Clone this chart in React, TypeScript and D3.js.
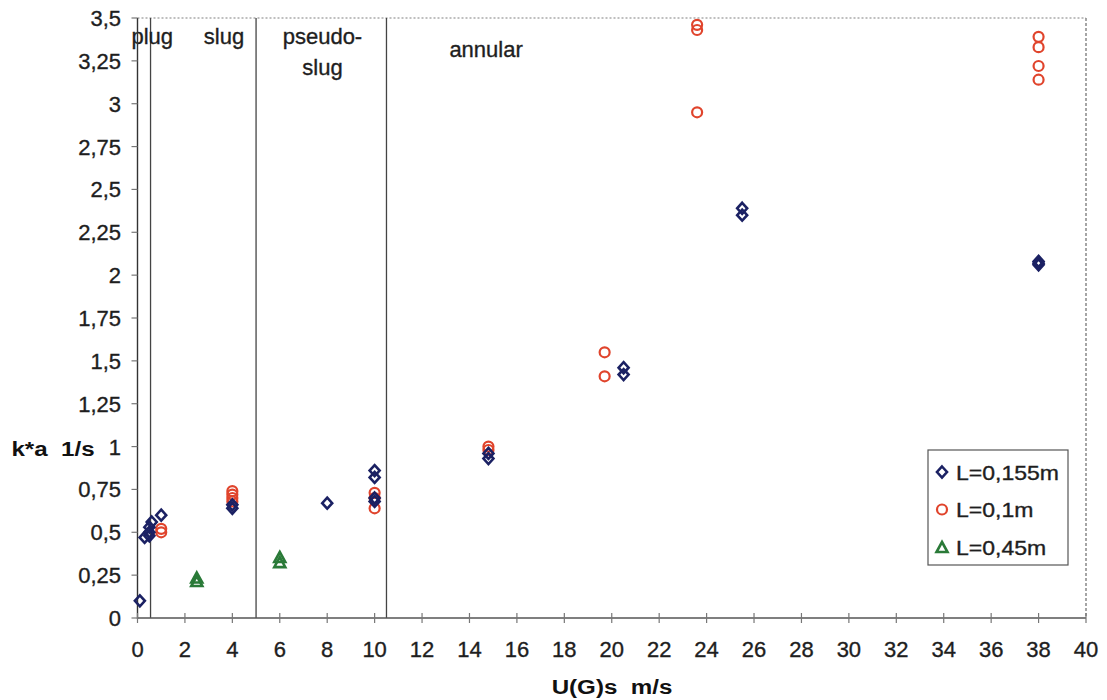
import React from "react";
import * as d3 from "d3";

// Gas superficial velocity U(G)s [m/s] and k*a [1/s] for each electrode spacing
const diamondX = [0.1, 0.3, 0.5, 0.5, 0.5, 0.6, 1.0, 4, 4, 8, 10, 10, 10, 10, 14.8, 14.8, 20.5, 20.5, 25.5, 25.5, 38, 38, 38];
const diamondY = [0.1, 0.47, 0.48, 0.5, 0.53, 0.56, 0.6, 0.64, 0.66, 0.67, 0.86, 0.82, 0.7, 0.68, 0.93, 0.96, 1.46, 1.42, 2.39, 2.35, 2.06, 2.07, 2.08];

const circleX = [1.0, 1.0, 4, 4, 4, 4, 10, 10, 10, 14.8, 14.8, 19.7, 19.7, 23.6, 23.6, 23.6, 38, 38, 38, 38];
const circleY = [0.52, 0.5, 0.74, 0.72, 0.7, 0.68, 0.73, 0.7, 0.64, 1.0, 0.98, 1.55, 1.41, 3.46, 3.43, 2.95, 3.39, 3.33, 3.22, 3.14];

const triangleX = [2.5, 2.5, 6, 6];
const triangleY = [0.21, 0.23, 0.32, 0.35];

const xTicks = d3.range(0, 41, 2);
const yTicks = d3.range(0, 3.51, 0.25);

// Flow regime boundaries and labels
const regimeBounds = [0.55, 5, 10.5];
const regimeLabels = [
  { x: 0.62, y: 3.35, lines: ["plug"] },
  { x: 3.65, y: 3.35, lines: ["slug"] },
  { x: 7.8, y: 3.35, lines: ["pseudo-", "slug"] },
  { x: 14.7, y: 3.27, lines: ["annular"] },
];

const seriesNames = ["L=0,155m", "L=0,1m", "L=0,45m"];
const navy = "#1b2163";
const red = "#e0442c";
const green = "#2a7a38";

const W = 1107;
const H = 700;
const left = 137.5;
const right = 1086;
const top = 18;
const bottom = 618;

const fmt = (v: number) => String(+v.toFixed(2)).replace(".", ",");

export default function App() {
  const x = d3.scaleLinear().domain([0, 40]).range([left, right]);
  const y = d3.scaleLinear().domain([0, 3.5]).range([bottom, top]);

  const diamond = (cx: number, cy: number, key: string) => (
    <path
      key={key}
      d={`M${cx},${cy - 5.5} L${cx + 5},${cy} L${cx},${cy + 5.5} L${cx - 5},${cy} Z`}
      fill="none"
      stroke={navy}
      strokeWidth={2.6}
    />
  );
  const circle = (cx: number, cy: number, key: string) => (
    <circle key={key} cx={cx} cy={cy} r={5} fill="none" stroke={red} strokeWidth={2.2} />
  );
  const triangle = (cx: number, cy: number, key: string) => (
    <path
      key={key}
      d={`M${cx},${cy - 6} L${cx + 5.5},${cy + 4} L${cx - 5.5},${cy + 4} Z`}
      fill="none"
      stroke={green}
      strokeWidth={2.6}
    />
  );

  const font = "Liberation Sans, Arial, sans-serif";
  const ink = "#1e1e1e";
  const txt = { fill: ink, stroke: ink, strokeWidth: 0.35 };

  return (
    <svg width={W} height={H} style={{ position: "absolute", left: 0, top: 0, background: "#fff" }} fontFamily={font}>
      {/* plot frame: dotted top, dashed right */}
      <line x1={left} x2={right} y1={top} y2={top} stroke="#aaa" strokeWidth={1.5} strokeDasharray="2,2" />
      <line x1={right} x2={right} y1={top} y2={bottom} stroke="#888" strokeWidth={1.5} strokeDasharray="3,2" />

      {/* regime boundaries */}
      {regimeBounds.map((b, i) => (
        <line key={i} x1={x(b)} x2={x(b)} y1={top} y2={bottom} stroke="#444" strokeWidth={1.3} />
      ))}
      {regimeLabels.map((r, i) => (
        <text key={i} x={x(r.x)} y={y(r.y)} textAnchor="middle" fontSize={22} {...txt}>
          {r.lines.map((l, j) => (
            <tspan key={j} x={x(r.x)} dy={j === 0 ? 0 : 31}>
              {l}
            </tspan>
          ))}
        </text>
      ))}

      {/* axes */}
      <line x1={left} x2={left} y1={top} y2={bottom + 1} stroke="#333" strokeWidth={1.4} />
      <line x1={left} x2={right} y1={bottom} y2={bottom} stroke="#555" strokeWidth={1.4} />
      {yTicks.map((t) => (
        <g key={t}>
          <line x1={left - 6} x2={left} y1={y(t)} y2={y(t)} stroke="#777" strokeWidth={1.2} />
          <text x={121} y={y(t) + 8} textAnchor="end" fontSize={22} {...txt}>
            {fmt(t)}
          </text>
        </g>
      ))}
      {xTicks.map((t) => (
        <g key={t}>
          <line x1={x(t)} x2={x(t)} y1={bottom - 5} y2={bottom + 5} stroke="#777" strokeWidth={1.2} />
          <text x={x(t)} y={657} textAnchor="middle" fontSize={22} {...txt}>
            {t}
          </text>
        </g>
      ))}
      <g transform="translate(53,456) scale(1.15,1)">
        <text textAnchor="middle" fontSize={21} fontWeight="bold" fill="#111">
          k*a{"\u00a0\u00a0"}1/s
        </text>
      </g>
      <g transform="translate(612,694) scale(1.15,1)">
        <text textAnchor="middle" fontSize={21} fontWeight="bold" fill="#111">
          U(G)s{"\u00a0\u00a0"}m/s
        </text>
      </g>

      {/* data */}
      {circleX.map((v, i) => circle(x(v), y(circleY[i]), "c" + i))}
      {diamondX.map((v, i) => diamond(x(v), y(diamondY[i]), "d" + i))}
      {triangleX.map((v, i) => triangle(x(v), y(triangleY[i]), "t" + i))}

      {/* legend */}
      <rect x={928} y={450} width={140} height={115} fill="#fff" stroke="#555" strokeWidth={1.2} />
      {seriesNames.map((name, i) => {
        const ly = 472 + i * 37.5;
        const mk = i === 0 ? diamond(942, ly, "ld") : i === 1 ? circle(942, ly, "lc") : triangle(942, ly + 1, "lt");
        return (
          <g key={name}>
            {mk}
            <g transform={`translate(956,${ly + 7.5}) scale(1.15,1)`}>
              <text fontSize={20} {...txt}>
                {name}
              </text>
            </g>
          </g>
        );
      })}
    </svg>
  );
}
